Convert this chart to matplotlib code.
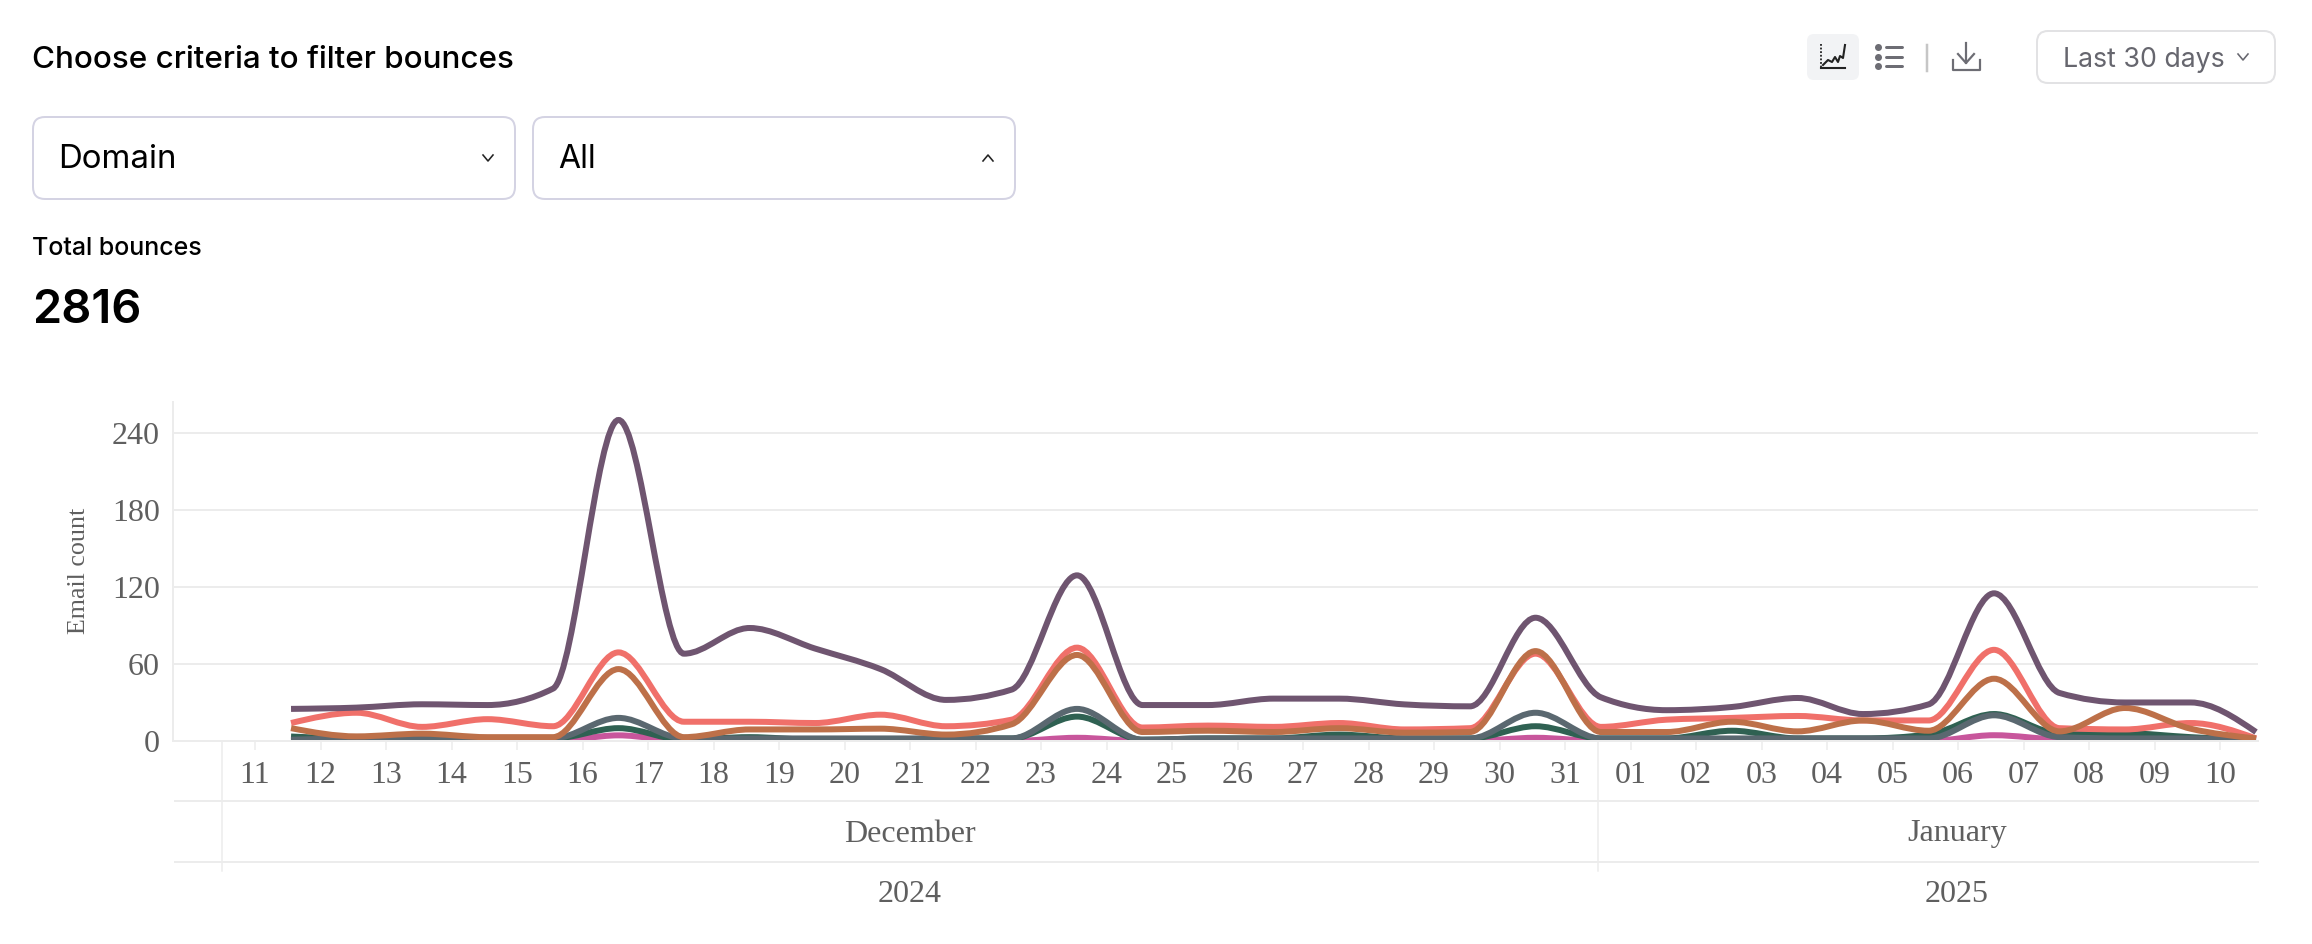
import numpy as np
import matplotlib
matplotlib.use("Agg")
import matplotlib.pyplot as plt
from matplotlib.patches import FancyBboxPatch, PathPatch
from matplotlib.path import Path

W, H = 2312, 944

day_labels = ["11", "12", "13", "14", "15", "16", "17", "18", "19", "20", "21", "22", "23", "24", "25", "26",
              "27", "28", "29", "30", "31", "01", "02", "03", "04", "05", "06", "07", "08", "09", "10"]
y_ticks = [0, 60, 120, 180, 240]

# one value per day, the chart draws them a bit past the day tick
total = [25, 26, 28.6, 28, 40.8, 250, 68, 88, 72, 56, 32, 40, 129, 28, 28, 33, 33, 28.5, 27, 96,
         34, 24, 26.5, 33.5, 21, 28.5, 115, 37.4, 30, 30, 7]
coral = [14, 22, 11, 17, 11.5, 69, 15, 15, 14, 20.5, 11.5, 16.6, 72.7, 10.5, 12, 11, 14, 9, 10, 68,
         11, 16.6, 18, 19.5, 16, 16, 71, 10, 9, 14, 2]
brown = [10, 3.6, 5.7, 3, 3, 56, 3, 9, 9, 9.6, 5, 13, 67, 7, 8, 7, 10, 6.5, 7, 70,
         7, 7, 15, 7.5, 16, 8, 48.5, 7.5, 25.7, 9.6, 2]
slate = [1, 2, 2, 2, 2, 18, 2, 2, 2, 2, 2, 2, 25, 1, 2, 2, 2, 2, 2, 22,
         2, 2, 2, 2, 2, 2, 20, 3, 2, 2, 1]
green = [3.5, 2, 3, 2, 2, 10, 1, 3, 1, 1, 2, 2, 19, 1, 2, 2, 5, 2, 2, 11.5,
         2, 2, 8, 2, 2, 5, 21, 6, 6, 3, 0.5]
pink = [0, 0, 0, 0, 0, 4.4, 0, 0, 0, 0, 0, 0, 2.5, 0, 0, 0, 0, 0, 0, 2.5,
        0, 0, 0, 0, 0, 0, 4.5, 1, 0, 0, 0]

series = [(pink, "#c8569c"), (green, "#2f6152"), (slate, "#5a6870"),
          (coral, "#f0706a"), (brown, "#bd7049"), (total, "#6f5570")]

GRID = "#ececec"
TICK_TEXT = "#5f5f5f"
UI_FONT = ["Inter", "DejaVu Sans"]
SERIF = ["Liberation Serif", "DejaVu Serif"]


def px(v):
    return v * 0.72


def monotone_path(xs, ys):
    # same bezier segments as a d3 monotoneX line
    xs = np.asarray(xs, float)
    ys = np.asarray(ys, float)
    h = np.diff(xs)
    s = np.diff(ys) / h
    t = np.zeros(len(xs))
    for i in range(1, len(xs) - 1):
        p = (s[i - 1] * h[i] + s[i] * h[i - 1]) / (h[i - 1] + h[i])
        t[i] = (np.sign(s[i - 1]) + np.sign(s[i])) * min(abs(s[i - 1]), abs(s[i]), 0.5 * abs(p))
    t[0] = (3 * s[0] - t[1]) / 2
    t[-1] = (3 * s[-1] - t[-2]) / 2
    verts = [(xs[0], ys[0])]
    codes = [Path.MOVETO]
    for i in range(len(h)):
        d = h[i] / 3
        verts += [(xs[i] + d, ys[i] + d * t[i]), (xs[i + 1] - d, ys[i + 1] - d * t[i + 1]), (xs[i + 1], ys[i + 1])]
        codes += [Path.CURVE4] * 3
    return Path(verts, codes)


fig = plt.figure(figsize=(W / 100, H / 100), dpi=100, facecolor="white")

# page furniture is placed in pixels
ui = fig.add_axes([0, 0, 1, 1])
ui.set_xlim(0, W)
ui.set_ylim(H, 0)
ui.axis("off")


def box(x0, y0, x1, y1, r, edge, face="white", lw=2):
    ui.add_patch(FancyBboxPatch((x0 + r, y0 + r), x1 - x0 - 2 * r, y1 - y0 - 2 * r,
                                boxstyle=f"round,pad={r},rounding_size={r}",
                                fc=face, ec=edge, lw=px(lw)))


def chevron(x, y, up=False, color="#222222", w=5, h=3, lw=1.6):
    s = -1 if up else 1
    ui.plot([x - w, x, x + w], [y - s * h, y + s * h, y - s * h], color=color, lw=px(lw))


def label(x, y, s, size, color="black", weight="medium"):
    ui.text(x, y, s, fontsize=px(size), color=color, family=UI_FONT, weight=weight, va="baseline")


label(32, 68, "Choose criteria to filter bounces", 31.4)
box(33, 117, 515, 199, 12, "#d4d3e3")
box(533, 117, 1015, 199, 12, "#d4d3e3")
label(58, 168, "Domain", 33, weight="normal")
label(558, 168, "All", 32, weight="normal")
chevron(488, 158)
chevron(988, 158, up=True)
label(32, 255, "Total bounces", 25)
label(32, 323, "2816", 47, weight="semibold")

# toolbar icons
box(1807, 34, 1859, 80, 7, "#f2f3f5", face="#f2f3f5", lw=0)
ui.plot([1821, 1821], [44, 68], color="#222222", lw=1.3, ls=(0, (1, 1)))
ui.plot([1821, 1845], [68, 68], color="#222222", lw=1.5)
ui.plot([1823, 1828, 1832, 1835, 1838, 1840, 1843, 1845], [65, 60, 62, 57, 62, 56, 58, 45],
        color="#222222", lw=1.5)
for y in (47, 57, 66):
    ui.plot([1878], [y], "o", color="#6d6d74", ms=px(7), mew=0)
    ui.plot([1886, 1902], [y, y], color="#6d6d74", lw=px(3), solid_capstyle="round")
ui.plot([1927, 1927], [45, 71], color="#c6c6c6", lw=px(2.5))
ui.plot([1953, 1953, 1980, 1980], [60, 70, 70, 60], color="#6d6d74", lw=px(2.2))
ui.plot([1966, 1966], [43, 63], color="#6d6d74", lw=px(2.2))
ui.plot([1958, 1966, 1974], [54, 63, 54], color="#6d6d74", lw=px(2.2))
box(2037, 31, 2275, 83, 11, "#e2e2e4")
label(2063, 67, "Last 30 days", 26.7, color="#66666e", weight="normal")
chevron(2243, 57, color="#66666e", w=5, h=3)

# chart, x is the position of the day band, 0 is the "11" tick
ax = fig.add_axes([173 / W, 1 - 741 / H, (2258 - 173) / W, (741 - 402) / H])
ax.patch.set_alpha(0)
ax.set_xlim((173 - 255) / 65.5, (2258 - 255) / 65.5)
ax.set_ylim(0, 264)
ax.set_yticks(y_ticks)
ax.set_xticks(range(len(day_labels)))
ax.set_xticklabels(day_labels)
ax.grid(axis="y", color=GRID, lw=px(2))
ax.set_axisbelow(True)
for side in ("top", "right"):
    ax.spines[side].set_visible(False)
for side in ("left", "bottom"):
    ax.spines[side].set_color(GRID)
    ax.spines[side].set_linewidth(px(2))
ax.tick_params(axis="y", length=0, pad=px(13), labelsize=px(32), labelcolor=TICK_TEXT)
ax.tick_params(axis="x", length=px(9), width=px(1.5), color=GRID, pad=px(11), labelsize=px(32),
               labelcolor=TICK_TEXT)
for t in ax.get_xticklabels() + ax.get_yticklabels():
    t.set_family(SERIF)

positions = np.arange(len(total)) + 0.55
for values, color in series:
    ax.add_patch(PathPatch(monotone_path(positions, values), fc="none", ec=color, lw=px(6), capstyle="butt"))

# month and year rows under the axis
for y in (801, 862):
    ui.plot([175, 2258], [y, y], color=GRID, lw=px(2))
for x in (222, 1598):
    ui.plot([x, x], [741, 871], color=GRID, lw=px(1.5))
for x, y, s in [(910, 834, "December"), (1957, 834, "January"), (910, 895, "2024"), (1957, 895, "2025")]:
    ui.text(x, y, s, fontsize=px(32), color=TICK_TEXT, family=SERIF, ha="center", va="center")
ui.text(79, 571, "Email count", fontsize=px(26), color=TICK_TEXT, family=SERIF, rotation=90,
        ha="center", va="center")

fig.savefig("out.png", dpi=100)
plt.close(fig)
